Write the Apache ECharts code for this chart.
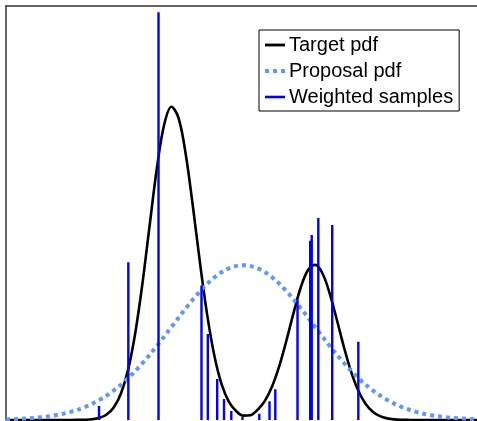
<!DOCTYPE html>
<html>
<head>
<meta charset="utf-8">
<script src="https://cdn.jsdelivr.net/npm/echarts@6/dist/echarts.min.js"></script>
<style>
html,body{margin:0;padding:0;background:#fff;}
#c{width:477px;height:421px;}
</style>
</head>
<body>
<div id="c"></div>
<script>
// Legend / series names
const seriesNames = ['Target pdf', 'Proposal pdf', 'Weighted samples'];

// Target pdf
const targetX = [-6.6, -5.0, -4.8, -4.6, -4.4, -4.2, -4.0, -3.8, -3.6, -3.4, -3.2, -3.0, -2.8, -2.6, -2.4, -2.2, -2.0, -1.8, -1.6, -1.4, -1.2, -1.0, -0.8, -0.6, -0.4, -0.2, 0.0, 0.2, 0.4, 0.6, 0.8, 1.0, 1.2, 1.4, 1.6, 1.8, 2.0, 2.2, 2.4, 2.6, 2.8, 3.0, 3.2, 3.4, 3.6, 3.8, 4.0, 4.2, 4.4, 4.6, 5.0, 6.5];
const targetY = [0, 0, 0.0000, 0.0002, 0.0006, 0.0019, 0.0052, 0.0133, 0.0307, 0.0646, 0.1230, 0.2126, 0.3332, 0.4735, 0.6104, 0.7136, 0.7566, 0.7294, 0.6414, 0.5145, 0.3765, 0.2514, 0.1532, 0.0853, 0.0438, 0.0218, 0.0105, 0.0115, 0.0248, 0.0461, 0.0807, 0.1301, 0.1921, 0.2595, 0.3206, 0.3624, 0.3747, 0.3545, 0.3067, 0.2427, 0.1757, 0.1164, 0.0705, 0.0391, 0.0198, 0.0092, 0.0039, 0.0015, 0.0005, 0.0002, 0, 0];

// Proposal pdf
const proposalX = [-6.6, -6.4, -6.0, -5.6, -5.2, -4.8, -4.4, -4.0, -3.6, -3.2, -2.8, -2.4, -2.0, -1.6, -1.2, -0.8, -0.4, 0.0, 0.4, 0.8, 1.2, 1.6, 2.0, 2.4, 2.8, 3.2, 3.6, 4.0, 4.4, 4.8, 5.2, 5.6, 6.0, 6.4, 6.5];
const proposalY = [0.0014, 0.0020, 0.0038, 0.0069, 0.0119, 0.0198, 0.0317, 0.0486, 0.0716, 0.1013, 0.1376, 0.1794, 0.2245, 0.2698, 0.3112, 0.3447, 0.3664, 0.3740, 0.3664, 0.3447, 0.3112, 0.2698, 0.2245, 0.1794, 0.1376, 0.1013, 0.0716, 0.0486, 0.0317, 0.0198, 0.0119, 0.0069, 0.0038, 0.0020, 0.0017];

// Weighted samples (positions and weights)
const sampleX = [-4.013, -3.198, -2.358, -1.163, -0.987, -0.726, -0.537, -0.334, -0.022, 0.445, 0.729, 0.890, 1.508, 1.861, 1.903, 2.086, 2.473, 3.199];
const sampleW = [0.034, 0.381, 0.985, 0.325, 0.208, 0.099, 0.051, 0.022, 0.007, 0.015, 0.045, 0.074, 0.290, 0.433, 0.447, 0.488, 0.471, 0.189];

const targetData = targetX.map((x, i) => [x, targetY[i]]);
const proposalData = proposalX.map((x, i) => [x, proposalY[i]]);
const stemData = [];
sampleX.forEach((x, i) => {
  stemData.push([x, 0]);
  stemData.push([x, sampleW[i]]);
  stemData.push([x, '-']);
});

const chart = echarts.init(document.getElementById('c'), null, {renderer: 'canvas'});
chart.setOption({
  animation: false,
  backgroundColor: '#ffffff',
  grid: {left: 6, right: 0, top: 6, bottom: 1, containLabel: false},
  xAxis: [{
    type: 'value', min: -6.6, max: 6.5, position: 'top',
    axisLine: {show: true, onZero: false, lineStyle: {color: '#333333', width: 1.5}},
    axisTick: {show: false}, axisLabel: {show: false}, splitLine: {show: false}
  }],
  yAxis: [{
    type: 'value', min: 0, max: 1,
    axisLine: {show: true, onZero: false, lineStyle: {color: '#333333', width: 1.5}},
    axisTick: {show: false}, axisLabel: {show: false}, splitLine: {show: false}
  }],
  legend: {
    show: true,
    orient: 'vertical',
    left: 259, top: 30,
    padding: [5, 6, 4, 4],
    itemGap: 6,
    itemWidth: 20,
    itemHeight: 20,
    borderColor: '#000000',
    borderWidth: 1,
    backgroundColor: '#ffffff',
    selectedMode: false,
    itemStyle: {opacity: 0, borderWidth: 0},
    textStyle: {fontFamily: 'Liberation Sans, Arial, sans-serif', fontSize: 20, color: '#000000', padding: [0, 0, 0, -1]},
    data: [
      {name: seriesNames[0], lineStyle: {width: 2.8, color: '#000000'}},
      {name: seriesNames[1], lineStyle: {width: 4, color: '#5f96ff', type: [4, 4]}},
      {name: seriesNames[2], lineStyle: {width: 2.6, color: '#0000ff'}}
    ]
  },
  series: [
    {
      name: seriesNames[0], type: 'line', data: targetData,
      smooth: 0.35, symbol: 'none', z: 2,
      lineStyle: {color: '#000000', width: 2.6},
      itemStyle: {color: '#000000'}
    },
    {
      name: seriesNames[1], type: 'line', data: proposalData,
      smooth: 0.35, symbol: 'none', z: 3,
      lineStyle: {color: '#5f96ff', width: 4, type: [4, 4]},
      itemStyle: {color: '#5f96ff'}
    },
    {
      name: seriesNames[2], type: 'line', data: stemData,
      smooth: false, symbol: 'none', connectNulls: false, z: 4,
      lineStyle: {color: '#0000ff', width: 2.4},
      itemStyle: {color: '#0000ff'}
    }
  ]
});
</script>
</body>
</html>
